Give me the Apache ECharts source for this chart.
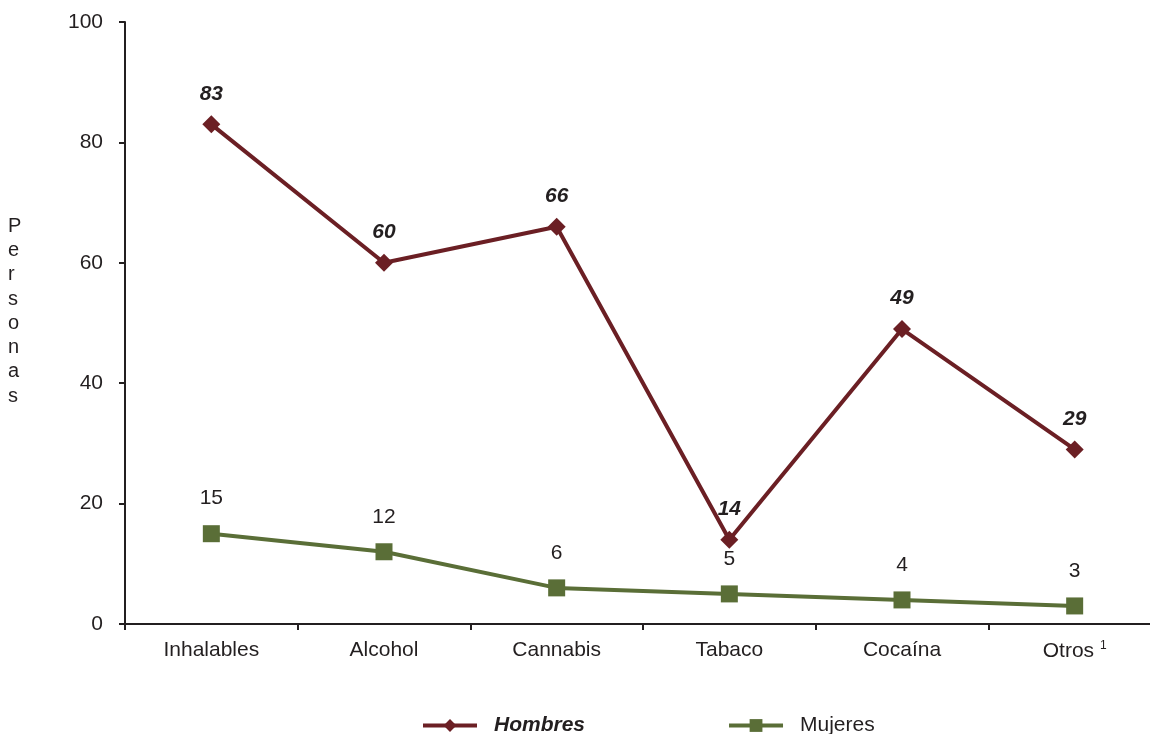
<!DOCTYPE html>
<html><head><meta charset="utf-8">
<script src="https://cdn.jsdelivr.net/npm/echarts@6/dist/echarts.min.js"></script>
<style>html,body{margin:0;padding:0;background:#fff}#c{width:1150px;height:734px}</style>
</head><body><div id="c"></div>
<script>
const categories = ['Inhalables','Alcohol','Cannabis','Tabaco','Cocaína','Otros'];
const hombres = [83, 60, 66, 14, 49, 29];
const mujeres = [15, 12, 6, 5, 4, 3];
const yTicks = [0, 20, 40, 60, 80, 100];

const txt = '#231f20';
const font = '"Liberation Sans", Arial, sans-serif';
const chart = echarts.init(document.getElementById('c'));
chart.setOption({
  animation: false,
  backgroundColor: '#fff',
  grid: { left: 125, width: 1036, top: 22, height: 602, outerBoundsMode: 'none', containLabel: false },
  xAxis: {
    type: 'category', data: categories, boundaryGap: true,
    axisLine: { lineStyle: { color: txt, width: 2 } },
    axisTick: { show: true, length: 6, lineStyle: { color: txt, width: 2 } },
    axisLabel: {
      color: txt, fontSize: 21, fontFamily: font, margin: 16,
      formatter: v => v === 'Otros' ? 'Otros {sup|1}' : v,
      rich: { sup: { fontSize: 12, verticalAlign: 'top', color: txt, fontFamily: font, padding: [0,0,10,0] } }
    }
  },
  yAxis: {
    type: 'value', min: yTicks[0], max: yTicks[yTicks.length-1], interval: 20,
    axisLine: { show: true, lineStyle: { color: txt, width: 2 } },
    axisTick: { show: true, length: 6, lineStyle: { color: txt, width: 2 } },
    splitLine: { show: false },
    axisLabel: { color: txt, fontSize: 21, fontFamily: font, margin: 22 }
  },
  graphic: [{
    type: 'text', left: 8, top: 214,
    style: { text: 'P\ne\nr\ns\no\nn\na\ns', fill: txt, font: '20px ' + font, lineHeight: 24.3, align: 'center' }
  }],
  legend: {
    top: 710, left: 416, itemGap: 142, itemWidth: 54, itemHeight: 16,
    lineStyle: { width: 4 },
    textStyle: { color: txt, fontSize: 21, fontFamily: font, padding: [0, 0, 0, 12] },
    data: [
      { name: 'Hombres', textStyle: { fontWeight: 'bold', fontStyle: 'italic' } },
      { name: 'Mujeres' }
    ]
  },
  series: [
    {
      name: 'Hombres', type: 'line', data: hombres,
      symbol: 'diamond', symbolSize: 18,
      itemStyle: { color: '#6b1f24' },
      lineStyle: { color: '#6b1f24', width: 4 },
      label: { show: true, position: 'top', distance: 11, color: txt, fontSize: 21,
               fontWeight: 'bold', fontStyle: 'italic', fontFamily: font }
    },
    {
      name: 'Mujeres', type: 'line', data: mujeres,
      symbol: 'rect', symbolSize: 17,
      itemStyle: { color: '#5a6e37' },
      lineStyle: { color: '#5a6e37', width: 4 },
      label: { show: true, position: 'top', distance: 16, color: txt, fontSize: 21, fontFamily: font }
    }
  ]
});
</script></body></html>
